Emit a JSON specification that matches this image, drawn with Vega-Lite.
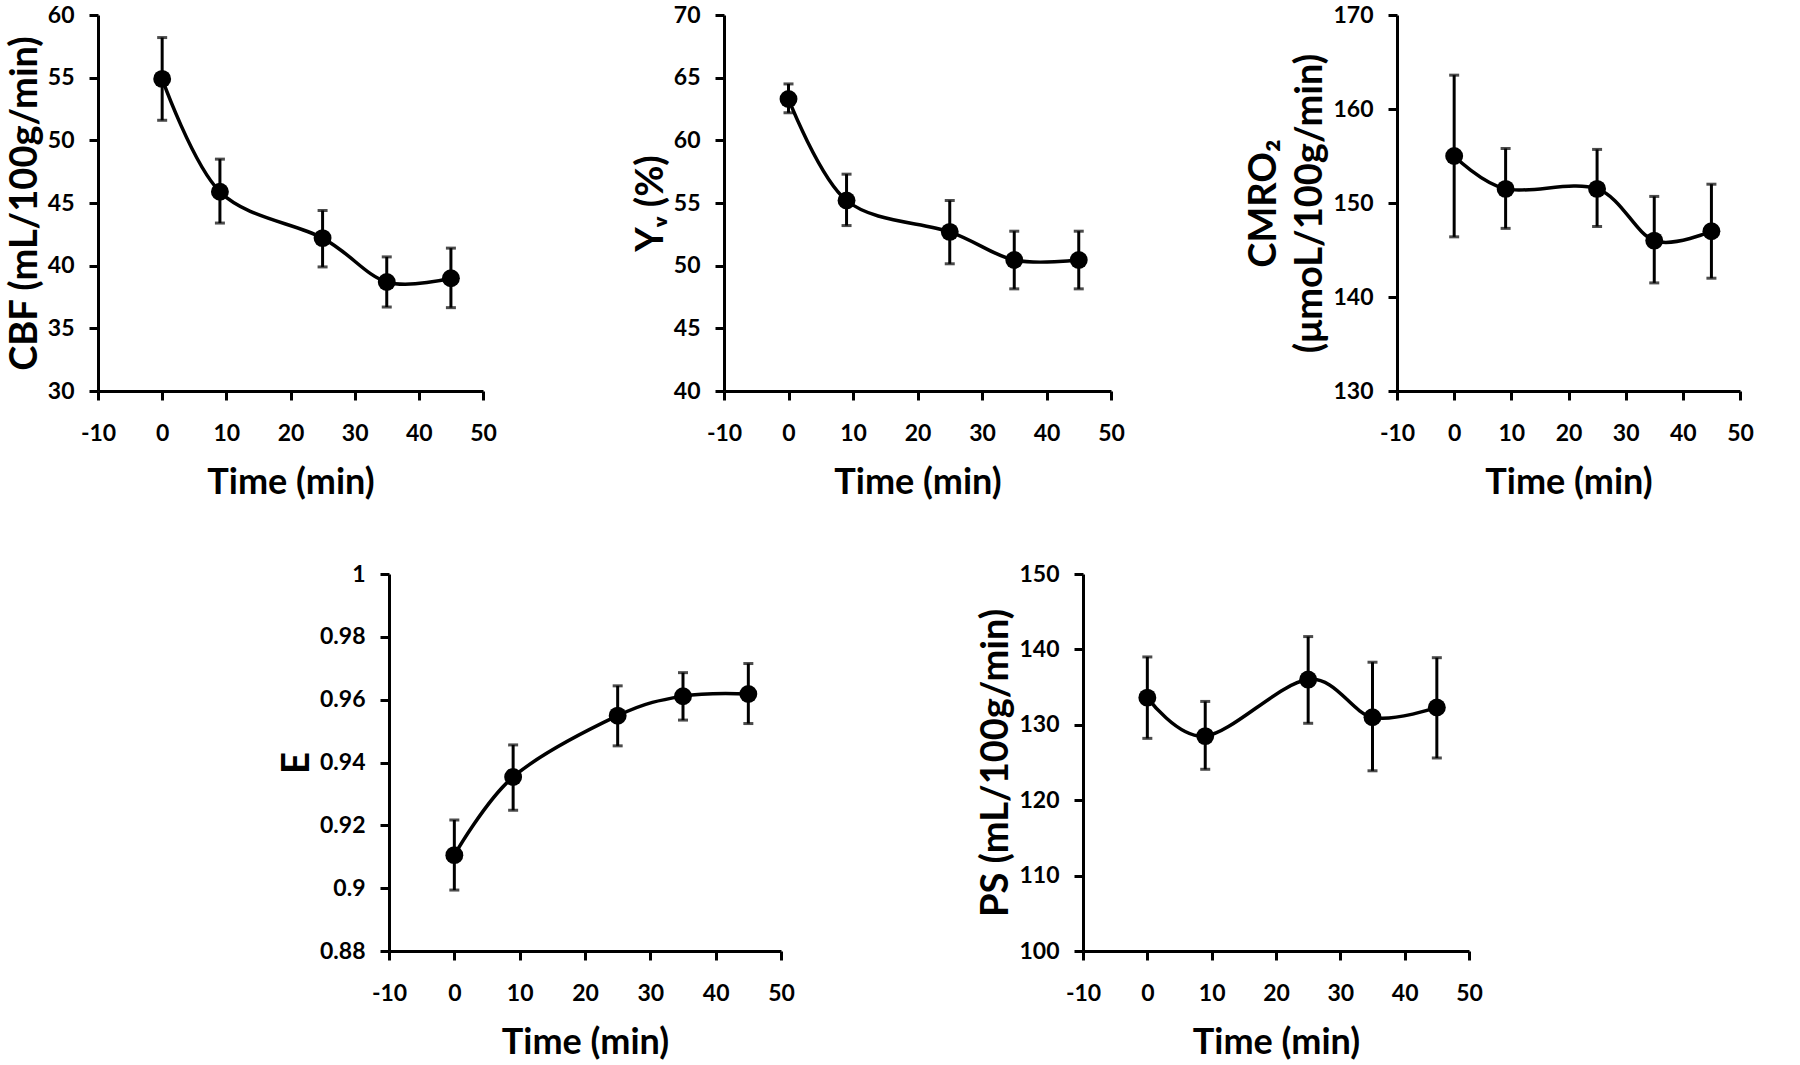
{
  "$schema": "https://vega.github.io/schema/vega-lite/v6.json",
  "background": "white",
  "padding": {"left": 6, "top": 4, "right": 5, "bottom": 0},
  "data": {"values": [
    {"m": "CBF", "t": 0, "v": 54.9, "lo": 51.6, "hi": 58.2},
    {"m": "CBF", "t": 9, "v": 45.9, "lo": 43.4, "hi": 48.5},
    {"m": "CBF", "t": 25, "v": 42.2, "lo": 39.9, "hi": 44.4},
    {"m": "CBF", "t": 35, "v": 38.7, "lo": 36.7, "hi": 40.7},
    {"m": "CBF", "t": 45, "v": 39.0, "lo": 36.65, "hi": 41.4},
    {"m": "Yv", "t": 0, "v": 63.3, "lo": 62.2, "hi": 64.5},
    {"m": "Yv", "t": 9, "v": 55.2, "lo": 53.2, "hi": 57.3},
    {"m": "Yv", "t": 25, "v": 52.7, "lo": 50.15, "hi": 55.2},
    {"m": "Yv", "t": 35, "v": 50.45, "lo": 48.15, "hi": 52.75},
    {"m": "Yv", "t": 45, "v": 50.45, "lo": 48.15, "hi": 52.75},
    {"m": "CMRO2", "t": 0, "v": 155.0, "lo": 146.4, "hi": 163.6},
    {"m": "CMRO2", "t": 9, "v": 151.5, "lo": 147.3, "hi": 155.8},
    {"m": "CMRO2", "t": 25, "v": 151.5, "lo": 147.5, "hi": 155.7},
    {"m": "CMRO2", "t": 35, "v": 146.0, "lo": 141.5, "hi": 150.7},
    {"m": "CMRO2", "t": 45, "v": 147.0, "lo": 142.0, "hi": 152.0},
    {"m": "E", "t": 0, "v": 0.9105, "lo": 0.8994, "hi": 0.9217},
    {"m": "E", "t": 9, "v": 0.9354, "lo": 0.9248, "hi": 0.9456},
    {"m": "E", "t": 25, "v": 0.9549, "lo": 0.9453, "hi": 0.9644},
    {"m": "E", "t": 35, "v": 0.9611, "lo": 0.9535, "hi": 0.9686},
    {"m": "E", "t": 45, "v": 0.9618, "lo": 0.9524, "hi": 0.9715},
    {"m": "PS", "t": 0, "v": 133.6, "lo": 128.2, "hi": 139.0},
    {"m": "PS", "t": 9, "v": 128.5, "lo": 124.1, "hi": 133.1},
    {"m": "PS", "t": 25, "v": 136.0, "lo": 130.2, "hi": 141.7},
    {"m": "PS", "t": 35, "v": 131.0, "lo": 123.9, "hi": 138.3},
    {"m": "PS", "t": 45, "v": 132.3, "lo": 125.6, "hi": 138.9}
  ]},
  "spacing": 63,
  "vconcat": [
    {
      "bounds": "flush",
      "spacing": 20,
      "hconcat": [
        {
          "width": 385, "height": 376,
          "transform": [{"filter": "datum.m === 'CBF'"}],
          "layer": [
            {"mark": {"type": "errorbar", "ticks": {"size": 10, "thickness": 3, "color": "black"}, "rule": {"strokeWidth": 3, "color": "black"}},
             "encoding": {
               "x": {"field": "t", "type": "quantitative", "title": "Time (min)", "scale": {"domain": [-10, 50], "nice": false}, "axis": {"values": [-10, 0, 10, 20, 30, 40, 50]}},
               "y": {"field": "lo", "type": "quantitative", "title": "CBF (mL/100g/min)", "scale": {"domain": [30, 60], "nice": false}, "axis": {"values": [30, 35, 40, 45, 50, 55, 60]}},
               "y2": {"field": "hi"}}},
            {"mark": {"type": "line", "interpolate": "cardinal", "color": "black", "strokeWidth": 3.5},
             "encoding": {
               "x": {"field": "t", "type": "quantitative", "title": "Time (min)"},
               "y": {"field": "v", "type": "quantitative", "title": "CBF (mL/100g/min)"}}},
            {"mark": {"type": "point", "filled": true, "color": "black", "opacity": 1, "size": 320},
             "encoding": {
               "x": {"field": "t", "type": "quantitative", "title": "Time (min)"},
               "y": {"field": "v", "type": "quantitative", "title": "CBF (mL/100g/min)"}}}
          ]
        },
        {"width": 201, "height": 376, "data": {"values": [{"s": ""}]}, "mark": {"type": "text"}, "encoding": {"text": {"field": "s"}}},
        {
          "width": 387, "height": 376,
          "transform": [{"filter": "datum.m === 'Yv'"}],
          "layer": [
            {"mark": {"type": "errorbar", "ticks": {"size": 10, "thickness": 3, "color": "black"}, "rule": {"strokeWidth": 3, "color": "black"}},
             "encoding": {
               "x": {"field": "t", "type": "quantitative", "title": "Time (min)", "scale": {"domain": [-10, 50], "nice": false}, "axis": {"values": [-10, 0, 10, 20, 30, 40, 50]}},
               "y": {"field": "lo", "type": "quantitative", "title": "Yᵥ (%)", "scale": {"domain": [40, 70], "nice": false}, "axis": {"values": [40, 45, 50, 55, 60, 65, 70]}},
               "y2": {"field": "hi"}}},
            {"mark": {"type": "line", "interpolate": "cardinal", "color": "black", "strokeWidth": 3.5},
             "encoding": {
               "x": {"field": "t", "type": "quantitative", "title": "Time (min)"},
               "y": {"field": "v", "type": "quantitative", "title": "Yᵥ (%)"}}},
            {"mark": {"type": "point", "filled": true, "color": "black", "opacity": 1, "size": 320},
             "encoding": {
               "x": {"field": "t", "type": "quantitative", "title": "Time (min)"},
               "y": {"field": "v", "type": "quantitative", "title": "Yᵥ (%)"}}}
          ]
        },
        {"width": 246, "height": 376, "data": {"values": [{"s": ""}]}, "mark": {"type": "text"}, "encoding": {"text": {"field": "s"}}},
        {
          "width": 343, "height": 376,
          "transform": [{"filter": "datum.m === 'CMRO2'"}],
          "layer": [
            {"mark": {"type": "errorbar", "ticks": {"size": 10, "thickness": 3, "color": "black"}, "rule": {"strokeWidth": 3, "color": "black"}},
             "encoding": {
               "x": {"field": "t", "type": "quantitative", "title": "Time (min)", "scale": {"domain": [-10, 50], "nice": false}, "axis": {"values": [-10, 0, 10, 20, 30, 40, 50]}},
               "y": {"field": "lo", "type": "quantitative", "title": ["CMRO₂", "(μmoL/100g/min)"], "scale": {"domain": [130, 170], "nice": false}, "axis": {"values": [130, 140, 150, 160, 170], "titleLineHeight": 46}},
               "y2": {"field": "hi"}}},
            {"mark": {"type": "line", "interpolate": "cardinal", "color": "black", "strokeWidth": 3.5},
             "encoding": {
               "x": {"field": "t", "type": "quantitative", "title": "Time (min)"},
               "y": {"field": "v", "type": "quantitative", "title": ["CMRO₂", "(μmoL/100g/min)"]}}},
            {"mark": {"type": "point", "filled": true, "color": "black", "opacity": 1, "size": 320},
             "encoding": {
               "x": {"field": "t", "type": "quantitative", "title": "Time (min)"},
               "y": {"field": "v", "type": "quantitative", "title": ["CMRO₂", "(μmoL/100g/min)"]}}}
          ]
        }
      ]
    },
    {
      "bounds": "flush",
      "spacing": 20,
      "hconcat": [
        {"width": 271, "height": 377, "data": {"values": [{"s": ""}]}, "mark": {"type": "text"}, "encoding": {"text": {"field": "s"}}},
        {
          "width": 392, "height": 377,
          "transform": [{"filter": "datum.m === 'E'"}],
          "layer": [
            {"mark": {"type": "errorbar", "ticks": {"size": 10, "thickness": 3, "color": "black"}, "rule": {"strokeWidth": 3, "color": "black"}},
             "encoding": {
               "x": {"field": "t", "type": "quantitative", "title": "Time (min)", "scale": {"domain": [-10, 50], "nice": false}, "axis": {"values": [-10, 0, 10, 20, 30, 40, 50]}},
               "y": {"field": "lo", "type": "quantitative", "title": "E", "scale": {"domain": [0.88, 1], "nice": false}, "axis": {"values": [0.88, 0.9, 0.92, 0.94, 0.96, 0.98, 1]}},
               "y2": {"field": "hi"}}},
            {"mark": {"type": "line", "interpolate": "cardinal", "color": "black", "strokeWidth": 3.5},
             "encoding": {
               "x": {"field": "t", "type": "quantitative", "title": "Time (min)"},
               "y": {"field": "v", "type": "quantitative", "title": "E"}}},
            {"mark": {"type": "point", "filled": true, "color": "black", "opacity": 1, "size": 320},
             "encoding": {
               "x": {"field": "t", "type": "quantitative", "title": "Time (min)"},
               "y": {"field": "v", "type": "quantitative", "title": "E"}}}
          ]
        },
        {"width": 262, "height": 377, "data": {"values": [{"s": ""}]}, "mark": {"type": "text"}, "encoding": {"text": {"field": "s"}}},
        {
          "width": 386, "height": 377,
          "transform": [{"filter": "datum.m === 'PS'"}],
          "layer": [
            {"mark": {"type": "errorbar", "ticks": {"size": 10, "thickness": 3, "color": "black"}, "rule": {"strokeWidth": 3, "color": "black"}},
             "encoding": {
               "x": {"field": "t", "type": "quantitative", "title": "Time (min)", "scale": {"domain": [-10, 50], "nice": false}, "axis": {"values": [-10, 0, 10, 20, 30, 40, 50]}},
               "y": {"field": "lo", "type": "quantitative", "title": "PS (mL/100g/min)", "scale": {"domain": [100, 150], "nice": false}, "axis": {"values": [100, 110, 120, 130, 140, 150]}},
               "y2": {"field": "hi"}}},
            {"mark": {"type": "line", "interpolate": "cardinal", "color": "black", "strokeWidth": 3.5},
             "encoding": {
               "x": {"field": "t", "type": "quantitative", "title": "Time (min)"},
               "y": {"field": "v", "type": "quantitative", "title": "PS (mL/100g/min)"}}},
            {"mark": {"type": "point", "filled": true, "color": "black", "opacity": 1, "size": 320},
             "encoding": {
               "x": {"field": "t", "type": "quantitative", "title": "Time (min)"},
               "y": {"field": "v", "type": "quantitative", "title": "PS (mL/100g/min)"}}}
          ]
        }
      ]
    }
  ],
  "config": {
    "view": {"stroke": null},
    "font": "Lato",
    "axis": {
      "grid": false,
      "domainColor": "black", "domainWidth": 3,
      "tickColor": "black", "tickWidth": 3, "tickSize": 9,
      "labelFont": "Lato", "labelFontSize": 23, "labelFontWeight": "bold", "labelColor": "black",
      "labelFlush": false, "labelOverlap": false, "labelBound": false,
      "labelExpr": "'' + datum.value",
      "titleFont": "Lato", "titleFontWeight": "bold", "titleColor": "black"
    },
    "axisX": {"labelPadding": 22, "titlePadding": 20, "titleFontSize": 36},
    "axisY": {"labelPadding": 15, "titlePadding": 3, "titleFontSize": 38}
  }
}
